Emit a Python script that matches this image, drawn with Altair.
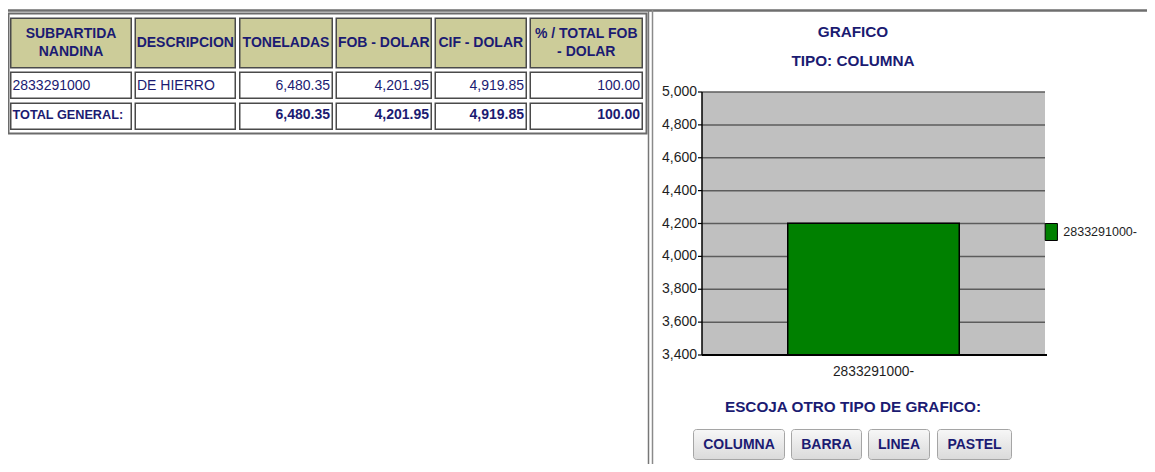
import altair as alt
import pandas as pd

# ---------------- data ----------------
SUBPARTIDA = ["2833291000"]
DESCRIPCION = ["DE HIERRO"]
TONELADAS = [6480.35]
FOB_DOLAR = [4201.95]
CIF_DOLAR = [4919.85]
PCT_FOB = [100.00]
HEADERS = [["SUBPARTIDA", "NANDINA"], ["DESCRIPCION"], ["TONELADAS"],
           ["FOB - DOLAR"], ["CIF - DOLAR"], ["% / TOTAL FOB", "- DOLAR"]]
TOTAL_LABEL = "TOTAL GENERAL:"
CATEGORIES = [s + "-" for s in SUBPARTIDA]
Y_TICKS = [3400, 3600, 3800, 4000, 4200, 4400, 4600, 4800, 5000]
TITLE_1 = "GRAFICO"
TITLE_2 = "TIPO: COLUMNA"
PROMPT = "ESCOJA OTRO TIPO DE GRAFICO:"
BUTTONS = ["COLUMNA", "BARRA", "LINEA", "PASTEL"]

# ---------------- layout (page pixels) ----------------
OFF = 8
W, H = 1139, 456
FONT = "Liberation Sans, Arial, sans-serif"
NAVY = "#1b1b72"
INK = "#1e1e1e"
KHAKI = "#cccc99"
GREEN = "#008000"
COL_X = [(10, 132), (134.5, 236), (239, 333), (335.5, 432), (434.5, 527), (529.5, 643)]
ROW_Y = [(17.5, 68.5), (71.5, 99), (102.5, 130)]
PLOT_L, PLOT_R, PLOT_T, PLOT_B = 702, 1045, 92, 355
BTN_X = [(693, 785), (791, 862), (868, 930), (937, 1012)]
BTN_Y = (429, 460)
TXT = 14
TITLE_SIZE = 15.3

ONE = pd.DataFrame({"k": [0]})


def box(x1, y1, x2, y2, **kw):
    return alt.Chart(ONE).mark_rect(**kw).encode(
        x=alt.value(x1 - OFF), x2=alt.value(x2 - OFF),
        y=alt.value(y1 - OFF), y2=alt.value(y2 - OFF))


def line(x1, y1, x2, y2, color, w):
    return alt.Chart(ONE).mark_rule(color=color, strokeWidth=w).encode(
        x=alt.value(x1 - OFF), x2=alt.value(x2 - OFF),
        y=alt.value(y1 - OFF), y2=alt.value(y2 - OFF))


def label(x, y, s, align="left", bold=False, size=TXT, color=NAVY):
    return alt.Chart(ONE).mark_text(
        align=align, baseline="middle", font=FONT, fontSize=size,
        fontWeight="bold" if bold else "normal", color=color).encode(
        x=alt.value(x - OFF), y=alt.value(y - OFF), text=alt.value(s))


layers = []

# frames
layers.append(line(0, 10.5, 1160, 10.5, "#6e6e6e", 2.5))
layers.append(line(648.5, 10, 648.5, 480, "#777777", 1.5))
layers.append(line(652.5, 10, 652.5, 480, "#8a8a8a", 1.5))
layers.append(box(8.5, 13.5, 646.5, 133.5, fillOpacity=0, stroke="#6b6b6b", strokeWidth=2))

# table cells
for r, (y1, y2) in enumerate(ROW_Y):
    for (x1, x2) in COL_X:
        layers.append(box(x1 + 0.75, y1 + 0.75, x2 - 0.75, y2 - 0.75,
                          fill=KHAKI if r == 0 else "white",
                          stroke="#4a4a4a", strokeWidth=1.5))

# header text
for (x1, x2), lines in zip(COL_X, HEADERS):
    cx = (x1 + x2) / 2
    if len(lines) == 1:
        layers.append(label(cx, 43, lines[0], align="center", bold=True))
    else:
        layers.append(label(cx, 33.5, lines[0], align="center", bold=True))
        layers.append(label(cx, 52, lines[1], align="center", bold=True))

fmt = lambda v: f"{v:,.2f}"
row1 = [SUBPARTIDA[0], DESCRIPCION[0], fmt(TONELADAS[0]), fmt(FOB_DOLAR[0]),
        fmt(CIF_DOLAR[0]), fmt(PCT_FOB[0])]
row2 = [TOTAL_LABEL, "", fmt(sum(TONELADAS)), fmt(sum(FOB_DOLAR)),
        fmt(sum(CIF_DOLAR)), fmt(sum(PCT_FOB))]
for ry, vals, bold in [(86, row1, False), (115, row2, True)]:
    for i, ((x1, x2), s) in enumerate(zip(COL_X, vals)):
        if not s:
            continue
        if i < 2:
            size = 12.7 if (bold and i == 0) else TXT
            layers.append(label(x1 + 2.5, ry, s, align="left", bold=bold, size=size))
        else:
            layers.append(label(x2 - 3, ry, s, align="right", bold=bold))

# chart titles
layers.append(label(853, 31.5, TITLE_1, align="center", bold=True, size=TITLE_SIZE))
layers.append(label(853, 61, TITLE_2, align="center", bold=True, size=TITLE_SIZE))

# plot
yscale = alt.Scale(domain=[Y_TICKS[0], Y_TICKS[-1]], range=[PLOT_B - OFF, PLOT_T - OFF],
                   nice=False, zero=False)
xscale = alt.Scale(domain=CATEGORIES, range=[PLOT_L - OFF, PLOT_R - OFF],
                   paddingInner=0, paddingOuter=0.5)

layers.append(box(PLOT_L, PLOT_T, PLOT_R, PLOT_B, fill="#c0c0c0"))

ticks_df = pd.DataFrame({"v": Y_TICKS, "lbl": [f"{v:,}" for v in Y_TICKS]})
layers.append(alt.Chart(ticks_df[ticks_df.v > Y_TICKS[0]]).mark_rule(
    color="#5c5c5c", strokeWidth=1.5).encode(
    y=alt.Y("v:Q", scale=yscale, axis=None),
    x=alt.value(PLOT_L - OFF), x2=alt.value(PLOT_R - OFF)))

bar_df = pd.DataFrame({"cat": CATEGORIES, "fob": FOB_DOLAR})
layers.append(alt.Chart(bar_df).mark_bar(stroke="black", strokeWidth=1.5).encode(
    x=alt.X("cat:N", scale=xscale, axis=None),
    y=alt.Y("fob:Q", scale=yscale, axis=None),
    y2=alt.datum(Y_TICKS[0]),
    color=alt.Color("cat:N", scale=alt.Scale(domain=CATEGORIES, range=[GREEN]),
                    legend=alt.Legend(orient="none", legendX=1042.3 - OFF, legendY=223 - OFF,
                                      title=None, padding=0,
                                      symbolType="M-0.72,-1H0.72V1H-0.72Z", symbolSize=289,
                                      symbolStrokeColor="black", symbolStrokeWidth=1,
                                      symbolOpacity=1, labelOffset=3,
                                      labelFont=FONT, labelFontSize=12.5, labelColor=INK))))

# axis lines and ticks
layers.append(line(PLOT_L, PLOT_T, PLOT_L, PLOT_B, "black", 1.5))
layers.append(line(PLOT_L, PLOT_B, PLOT_R + 2, PLOT_B, "black", 2))
layers.append(alt.Chart(ticks_df).mark_rule(color="black", strokeWidth=1.2).encode(
    y=alt.Y("v:Q", scale=yscale, axis=None),
    x=alt.value(PLOT_L - 4 - OFF), x2=alt.value(PLOT_L - OFF)))
layers.append(alt.Chart(ticks_df).mark_text(
    align="right", baseline="middle", font=FONT, fontSize=14, color=INK).encode(
    y=alt.Y("v:Q", scale=yscale, axis=None),
    x=alt.value(PLOT_L - 5 - OFF), text="lbl:N"))
layers.append(alt.Chart(bar_df).mark_text(
    align="center", baseline="middle", font=FONT, fontSize=13.75, color=INK).encode(
    x=alt.X("cat:N", scale=xscale, axis=None),
    y=alt.value(372 - OFF), text="cat:N"))

# prompt and buttons
layers.append(label(853, 407, PROMPT, align="center", bold=True, size=TITLE_SIZE))
grad = alt.LinearGradient(gradient="linear",
                          stops=[alt.GradientStop(color="#f7f7f7", offset=0),
                                 alt.GradientStop(color="#dadada", offset=1)],
                          x1=0, x2=0, y1=0, y2=1)
for (x1, x2), name in zip(BTN_X, BUTTONS):
    layers.append(box(x1 + 0.5, BTN_Y[0] + 0.5, x2 - 0.5, BTN_Y[1] - 0.5, fill=grad,
                      stroke="#a5a5a5", strokeWidth=1, cornerRadius=3))
    layers.append(label((x1 + x2) / 2, (BTN_Y[0] + BTN_Y[1]) / 2, name,
                        align="center", bold=True, size=TXT))

chart = alt.layer(*layers).properties(
    width=W, height=H, padding=0,
    autosize=alt.AutoSizeParams(type="none"), background="white"
).configure_view(stroke=None)

chart.save("out.html", embed_options={"renderer": "svg", "actions": False})
